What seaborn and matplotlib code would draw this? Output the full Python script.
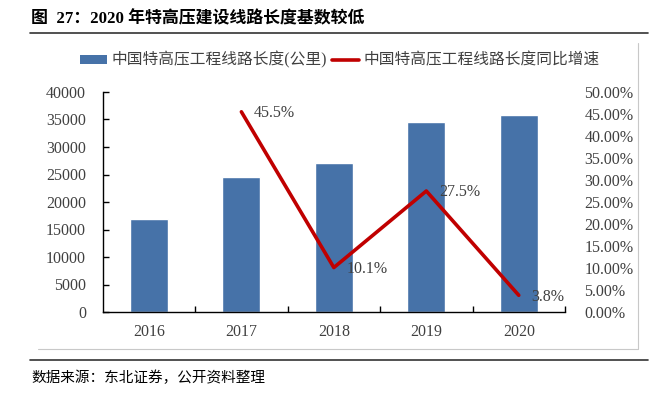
import numpy as np
import pandas as pd
import matplotlib
matplotlib.use("Agg")
import matplotlib.pyplot as plt
import seaborn as sns
from matplotlib.lines import Line2D
from matplotlib.patches import Patch
from matplotlib.ticker import FixedLocator, FuncFormatter

# ---- data ----
years = ["2016", "2017", "2018", "2019", "2020"]
length_km = [16900, 24600, 27080, 34530, 35840]
growth_years = ["2017", "2018", "2019", "2020"]
growth_pct = [45.5, 10.1, 27.5, 3.8]
left_ticks = [0, 5000, 10000, 15000, 20000, 25000, 30000, 35000, 40000]
right_ticks = [0, 5, 10, 15, 20, 25, 30, 35, 40, 45, 50]
bar_label = "中国特高压工程线路长度(公里)"
line_label = "中国特高压工程线路长度同比增速"
title = "图  27：2020 年特高压建设线路长度基数较低"
source = "数据来源：东北证券，公开资料整理"

sns.set_theme(style="white")
FAM = ["Liberation Serif", "Noto Sans CJK SC"]
plt.rcParams["font.family"] = FAM

BAR_C = "#4672A8"
LINE_C = "#C00000"
TXT_C = "#404040"

fig = plt.figure(figsize=(6.64, 3.96), dpi=100)
ax = fig.add_axes([102.7 / 664, 1 - 312 / 396, (565 - 102.7) / 664, 220 / 396])

df_bar = pd.DataFrame({"year": years, "len": length_km})
sns.barplot(data=df_bar, x="year", y="len", color=BAR_C, width=0.41,
            saturation=1, ax=ax, order=years)
ax.set_xlim(-0.5, len(years) - 0.5)
ax.set_ylim(0, 40000)
ax.set_xlabel("")
ax.set_ylabel("")
ax.set_yticks(left_ticks)
ax.set_yticklabels([str(t) for t in left_ticks])
ax.tick_params(axis="y", direction="in", length=4, width=1, color="black",
               pad=12, labelsize=11.5, labelcolor=TXT_C, left=True)
ax.tick_params(axis="x", which="major", length=0, pad=9, labelsize=11.5,
               labelcolor=TXT_C)
ax.xaxis.set_minor_locator(FixedLocator(np.arange(0.5, len(years), 1.0)))
ax.tick_params(axis="x", which="minor", direction="in", length=4, width=1,
               color="black", bottom=True)
for s in ["top", "right"]:
    ax.spines[s].set_visible(False)
for s in ["left", "bottom"]:
    ax.spines[s].set_color("black")
    ax.spines[s].set_linewidth(1)

ax2 = ax.twinx()
df_line = pd.DataFrame({"x": [years.index(y) for y in growth_years],
                        "g": growth_pct})
sns.lineplot(data=df_line, x="x", y="g", color=LINE_C, linewidth=2.6, ax=ax2)
ax2.set_ylim(0, 50)
ax2.set_xlim(-0.5, len(years) - 0.5)
ax2.set_ylabel("")
ax2.set_yticks(right_ticks)
ax2.yaxis.set_major_formatter(FuncFormatter(lambda v, p: f"{v:.2f}%"))
ax2.tick_params(axis="y", length=0, pad=14, labelsize=11.5, labelcolor=TXT_C)
for s in ["top", "right", "left", "bottom"]:
    ax2.spines[s].set_visible(False)
for xi, g in zip(df_line["x"], growth_pct):
    ax2.annotate(f"{g}%", (xi, g), xytext=(9, -1), textcoords="offset points",
                 ha="left", va="center", fontsize=11.5, color=TXT_C)

handles = [Patch(facecolor=BAR_C, edgecolor="none"),
           Line2D([0], [0], color=LINE_C, linewidth=2.6)]
fig.legend(handles, [bar_label, line_label], loc="center",
           bbox_to_anchor=(340 / 664, 1 - 60 / 396), ncol=2, frameon=False,
           prop={"family": FAM, "size": 11.3}, handlelength=1.7,
           handleheight=0.5, handletextpad=0.3, columnspacing=0.3,
           labelcolor=TXT_C)

fig.text(31 / 664, 1 - 19 / 396, title, ha="left", va="center",
         fontsize=12.2, fontweight="bold", color="black", family=FAM)
fig.add_artist(Line2D([30 / 664, 648 / 664], [1 - 33 / 396, 1 - 33 / 396],
                      color="#333333", linewidth=1.2, transform=fig.transFigure))
fig.add_artist(Line2D([30 / 664, 648 / 664], [1 - 360 / 396, 1 - 360 / 396],
                      color="#333333", linewidth=1.2, transform=fig.transFigure))
fig.add_artist(Line2D([38 / 664, 638 / 664, 638 / 664],
                      [1 - 349 / 396, 1 - 349 / 396, 1 - 43 / 396],
                      color="#C8C8C8", linewidth=0.8, transform=fig.transFigure))
fig.text(31 / 664, 1 - 378 / 396, source, ha="left", va="center",
         fontsize=10.5, color="black", family=FAM)

fig.savefig("out.png", dpi=100)
